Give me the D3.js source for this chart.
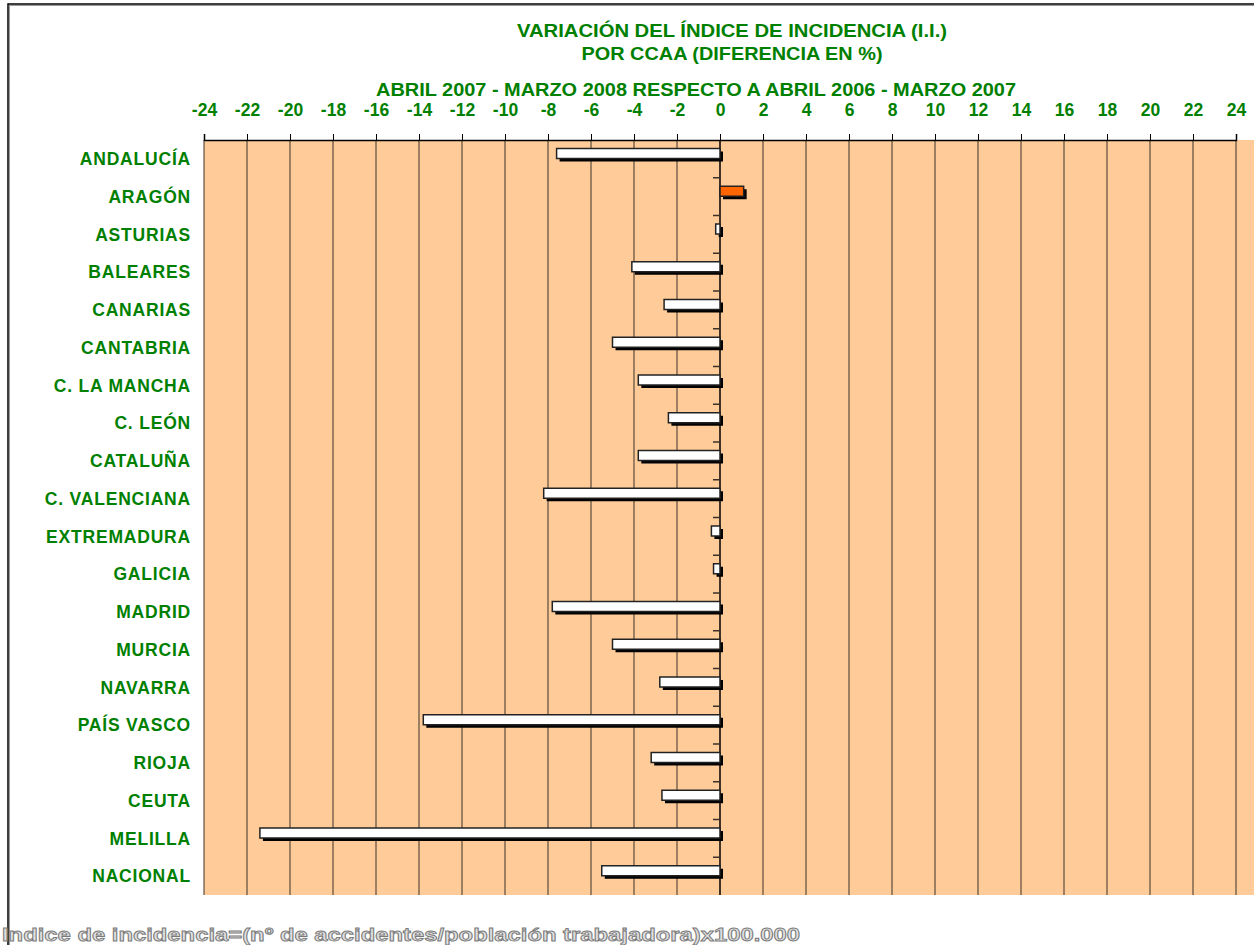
<!DOCTYPE html>
<html>
<head>
<meta charset="utf-8">
<script src="https://cdn.jsdelivr.net/npm/d3@7"></script>
<style>
  body { margin: 0; background: #fff; }
  svg { display: block; font-family: "Liberation Sans", Arial, sans-serif; }
</style>
</head>
<body>
<svg></svg>
<script>
const dims = { width: 1254, height: 945 }

// data
const regions = ['ANDALUCÍA', 'ARAGÓN', 'ASTURIAS', 'BALEARES', 'CANARIAS', 'CANTABRIA',
  'C. LA MANCHA', 'C. LEÓN', 'CATALUÑA', 'C. VALENCIANA', 'EXTREMADURA', 'GALICIA',
  'MADRID', 'MURCIA', 'NAVARRA', 'PAÍS VASCO', 'RIOJA', 'CEUTA', 'MELILLA', 'NACIONAL']
const variation = [-7.6, 1.1, -0.2, -4.1, -2.6, -5.0, -3.8, -2.4, -3.8, -8.2,
  -0.4, -0.3, -7.8, -5.0, -2.8, -13.8, -3.2, -2.7, -21.4, -5.5]
const ticks = [-24, -22, -20, -18, -16, -14, -12, -10, -8, -6, -4, -2, 0,
  2, 4, 6, 8, 10, 12, 14, 16, 18, 20, 22, 24]
const titleLines = ['VARIACIÓN DEL ÍNDICE DE INCIDENCIA  (I.I.)', 'POR CCAA (DIFERENCIA EN %)']
const subtitle = 'ABRIL 2007 - MARZO 2008 RESPECTO A ABRIL 2006 - MARZO 2007'
const footnote = 'Indice de incidencia=(nº de accidentes/población trabajadora)x100.000'

const green = '#008000'
const plot = { left: 204, right: 1236, top: 140, bottom: 895 }

const svg = d3.select('svg')
  .attr('width', dims.width)
  .attr('height', dims.height)

// outer frame
svg.append('rect')
  .attr('x', 9.5).attr('y', 5.5)
  .attr('width', dims.width).attr('height', dims.height)
  .attr('fill', 'none').attr('stroke', '#999').attr('stroke-width', 1)
svg.append('rect')
  .attr('x', 8).attr('y', 4)
  .attr('width', dims.width).attr('height', dims.height)
  .attr('fill', 'none').attr('stroke', '#000').attr('stroke-width', 1.5)

const x = d3.scaleLinear().domain([-24, 24]).range([plot.left, plot.right])
const y = d3.scaleBand().domain(regions).range([plot.top, plot.bottom])

// plot background
svg.append('rect')
  .attr('x', plot.left).attr('y', plot.top)
  .attr('width', dims.width - plot.left).attr('height', plot.bottom - plot.top)
  .attr('fill', '#FFCC99')

// vertical gridlines
svg.append('g').selectAll('line').data(ticks)
  .enter().append('line')
    .attr('x1', d => x(d)).attr('x2', d => x(d))
    .attr('y1', plot.top).attr('y2', plot.bottom)
    .attr('stroke', d => d === 0 ? '#000' : '#3a3028')
    .attr('stroke-width', d => d === 0 ? 1.5 : 1)

// top axis
const xAxis = d3.axisTop(x).tickValues(ticks).tickSize(6).tickPadding(18)
  .tickFormat(d => String(d))
const axisG = svg.append('g')
  .attr('transform', `translate(0,${plot.top})`)
  .call(xAxis)
axisG.select('.domain').attr('stroke', '#000').attr('stroke-width', 1.5)
axisG.selectAll('.tick line').attr('stroke', '#000')
axisG.selectAll('text')
  .attr('fill', green)
  .attr('font-family', '"Liberation Sans", Arial, sans-serif')
  .attr('font-weight', 'bold')
  .attr('font-size', 17.5)

// small category ticks on the zero axis
svg.append('g').selectAll('line').data(regions.slice(1))
  .enter().append('line')
    .attr('x1', x(0) - 7).attr('x2', x(0))
    .attr('y1', d => y(d)).attr('y2', d => y(d))
    .attr('stroke', '#3a3028').attr('stroke-width', 1.5)

// bars with drop shadow
const barH = 10
const barOff = 8.5
const barsG = svg.append('g')
barsG.selectAll('rect.shadow').data(regions)
  .enter().append('rect')
    .attr('class', 'shadow')
    .attr('x', (d, i) => Math.min(x(0), x(variation[i])) + 3)
    .attr('y', d => y(d) + barOff + 3)
    .attr('width', (d, i) => Math.abs(x(variation[i]) - x(0)))
    .attr('height', barH)
    .attr('fill', '#000')
barsG.selectAll('rect.bar').data(regions)
  .enter().append('rect')
    .attr('class', 'bar')
    .attr('x', (d, i) => Math.min(x(0), x(variation[i])))
    .attr('y', d => y(d) + barOff)
    .attr('width', (d, i) => Math.abs(x(variation[i]) - x(0)))
    .attr('height', barH)
    .attr('fill', (d, i) => variation[i] > 0 ? '#FF6600' : '#fff')
    .attr('stroke', '#222')
    .attr('stroke-width', 1.5)

// category labels
svg.append('g').selectAll('text').data(regions)
  .enter().append('text')
    .attr('x', 191)
    .attr('y', d => y(d) + y.bandwidth() / 2)
    .attr('dy', '0.36em')
    .attr('text-anchor', 'end')
    .attr('fill', green)
    .attr('font-weight', 'bold')
    .attr('font-size', 17.5)
    .attr('letter-spacing', 0.8)
    .text(d => d)

// titles
const titleWidths = [430, 301]
svg.append('g').selectAll('text').data(titleLines)
  .enter().append('text')
    .attr('x', 732)
    .attr('y', (d, i) => 37 + i * 23)
    .attr('text-anchor', 'middle')
    .attr('fill', green)
    .attr('font-weight', 'bold')
    .attr('font-size', 18)
    .attr('textLength', (d, i) => titleWidths[i])
    .attr('lengthAdjust', 'spacingAndGlyphs')
    .text(d => d)
svg.append('text')
  .attr('x', 696).attr('y', 96)
  .attr('text-anchor', 'middle')
  .attr('fill', green)
  .attr('font-weight', 'bold')
  .attr('font-size', 17.5)
  .attr('textLength', 640)
  .attr('lengthAdjust', 'spacingAndGlyphs')
  .text(subtitle)

// footnote
svg.append('text')
  .attr('x', 2).attr('y', 941)
  .attr('fill', '#e0e0e0')
  .attr('stroke', '#7a7a7a')
  .attr('stroke-width', 0.9)
  .attr('font-weight', 'bold')
  .attr('font-size', 19)
  .attr('textLength', 798)
  .attr('lengthAdjust', 'spacingAndGlyphs')
  .text(footnote)
</script>
</body>
</html>
